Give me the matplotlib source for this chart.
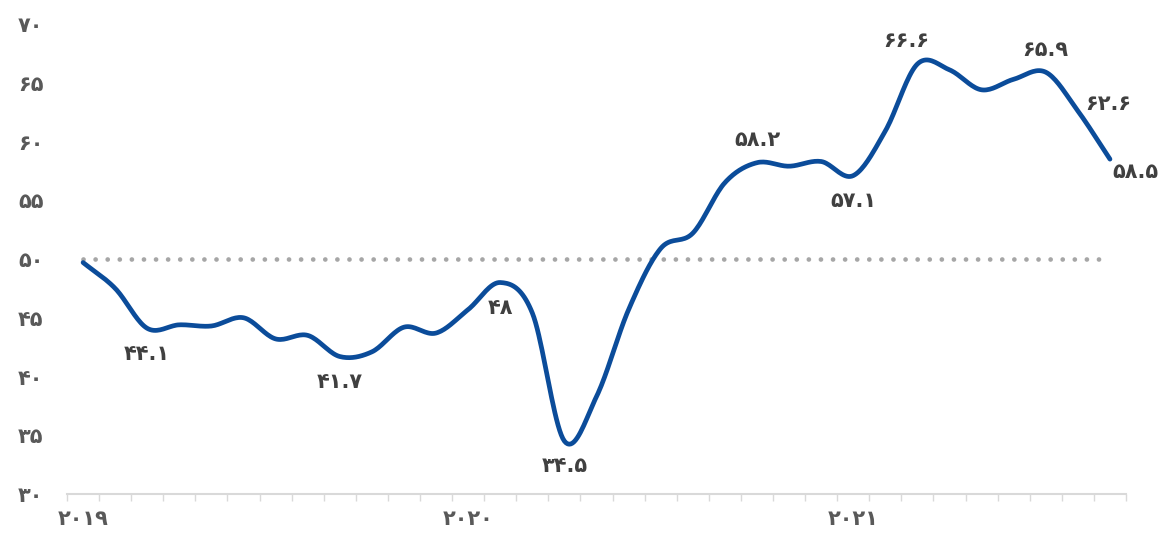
import numpy as np
import matplotlib
matplotlib.use("Agg")
import matplotlib.pyplot as plt

# monthly index, Jan 2019 .. Sep 2021
values = [49.7, 47.5, 44.1, 44.4, 44.3, 45.0, 43.2, 43.5, 41.7, 42.1, 44.2, 43.7,
          45.7, 48.0, 45.4, 34.5, 38.3, 45.7, 50.9, 52.2, 56.5, 58.2, 57.9, 58.3,
          57.1, 60.9, 66.6, 66.1, 64.4, 65.3, 65.9, 62.6, 58.5]
year_labels = ["2019", "2020", "2021"]
year_pos = [0, 12, 24]
threshold = 50
yticks = [30, 35, 40, 45, 50, 55, 60, 65, 70]

# which points get a data label, and where
labeled = {2: "below", 8: "below", 13: "below", 15: "below", 21: "above",
           24: "below", 26: "above", 30: "above", 31: "right", 32: "right"}

FA = str.maketrans("0123456789", "۰۱۲۳۴۵۶۷۸۹")


def fa(v):
    s = f"{v:g}" if isinstance(v, float) else str(v)
    return s.translate(FA)


def catmull_rom(x, y, steps=20):
    # smooth line through the points, like excel's "smoothed line"
    px = np.concatenate([[2 * x[0] - x[1]], x, [2 * x[-1] - x[-2]]])
    py = np.concatenate([[2 * y[0] - y[1]], y, [2 * y[-1] - y[-2]]])
    xs, ys = [], []
    t = np.linspace(0, 1, steps, endpoint=False)
    for i in range(1, len(px) - 2):
        p0, p1, p2, p3 = py[i - 1], py[i], py[i + 1], py[i + 2]
        q0, q1, q2, q3 = px[i - 1], px[i], px[i + 1], px[i + 2]
        for a, b, c, d, out in ((q0, q1, q2, q3, xs), (p0, p1, p2, p3, ys)):
            out.extend(0.5 * (2 * b + (-a + c) * t + (2 * a - 5 * b + 4 * c - d) * t ** 2
                              + (-a + 3 * b - 3 * c + d) * t ** 3))
    xs.append(x[-1])
    ys.append(y[-1])
    return np.array(xs), np.array(ys)


x = np.arange(len(values))
y = np.array(values)

fig = plt.figure(figsize=(11.6, 5.34), dpi=100)
ax = fig.add_axes([0.0578, 0.0749, 0.9129, 0.8801])

ax.plot([x[0], x[-1]], [threshold, threshold], color="#a6a6a6", lw=3.4,
        linestyle=(0, (0.01, 2.55)), dash_capstyle="round", zorder=1)

sx, sy = catmull_rom(x.astype(float), y)
ax.plot(sx, sy, color="#0b4c9a", lw=3.4, solid_capstyle="round", zorder=2)

txt = dict(fontsize=15, fontweight="bold", color="#404040", family="DejaVu Sans")
for i, pos in labeled.items():
    if pos == "below":
        ax.annotate(fa(values[i]), (x[i], y[i]), xytext=(0, -11), textcoords="offset points",
                    ha="center", va="top", **txt)
    elif pos == "above":
        dx = -8 if i == 26 else 0
        ax.annotate(fa(values[i]), (x[i], y[i]), xytext=(dx, 9), textcoords="offset points",
                    ha="center", va="bottom", **txt)
    elif i == len(values) - 1:
        ax.annotate(fa(values[i]), (x[i], y[i]), xytext=(2, -9),
                    textcoords="offset points", ha="left", va="center", **txt)
    else:
        ax.annotate(fa(values[i]), (x[i], y[i]), xytext=(5, 5),
                    textcoords="offset points", ha="left", va="center", **txt)

ax.set_xlim(-0.5, len(values) - 0.5)
ax.set_ylim(yticks[0], yticks[-1])
ax.set_yticks(yticks)
ax.set_yticklabels([fa(v) for v in yticks])
ax.set_xticks(year_pos)
ax.set_xticklabels([fa(s) for s in year_labels])
ax.set_xticks(np.arange(-0.5, len(values), 1.0), minor=True)

ax.tick_params(axis="y", length=0, pad=17, labelsize=15, labelcolor="#595959")
ax.tick_params(axis="x", which="major", length=0, pad=11, labelsize=15, labelcolor="#595959")
ax.tick_params(axis="x", which="minor", length=5, width=1, color="#d9d9d9")
for lab in ax.get_yticklabels() + ax.get_xticklabels():
    lab.set_fontweight("bold")

for side in ["left", "right", "top"]:
    ax.spines[side].set_visible(False)
ax.spines["bottom"].set_color("#d9d9d9")
ax.spines["bottom"].set_linewidth(1.5)

fig.savefig("out.png", dpi=100)
